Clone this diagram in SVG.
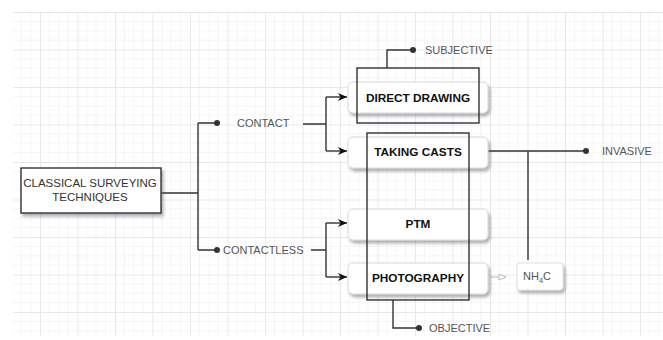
<svg xmlns="http://www.w3.org/2000/svg" width="663" height="340" viewBox="0 0 663 340">
  <style>
    .conn { fill: none; stroke: #333; stroke-width: 1.4; }
    .dot { fill: #333; }
    .lbl { font-family: "Liberation Sans", Arial, sans-serif; font-size: 11px; fill: #555; }
    .node { fill: #fff; stroke: #d8d8d8; stroke-width: 1; filter: url(#shadow); }
    .ntxt { font-family: "Liberation Sans", Arial, sans-serif; font-size: 11.8px; font-weight: bold; fill: #111; text-anchor: middle; }
    .frame { fill: none; stroke: #222; stroke-width: 1.3; }
  </style>
  <defs>
    <pattern id="grid" patternUnits="userSpaceOnUse" x="2.5" y="12" width="37.5" height="37.5">
      <path d="M9.375 0V37.5M18.75 0V37.5M28.125 0V37.5M0 9.375H37.5M0 18.75H37.5M0 28.125H37.5" stroke="#f5f5f5" stroke-width="1" fill="none"/>
      <path d="M0.5 0V37.5M0 0.5H37.5" stroke="#e8e8e8" stroke-width="1" fill="none"/>
    </pattern>
    <filter id="shadow" x="-10%" y="-20%" width="130%" height="160%">
      <feDropShadow dx="2" dy="3" stdDeviation="1.5" flood-color="#556" flood-opacity="0.45"/>
    </filter>
    <marker id="arr" markerUnits="userSpaceOnUse" markerWidth="9" markerHeight="8" refX="9" refY="4" orient="auto">
      <path d="M0,0 L9,4 L0,8 L2.5,4 z" fill="#111"/>
    </marker>
    <marker id="arrGray" markerUnits="userSpaceOnUse" markerWidth="9" markerHeight="8" refX="8" refY="4" orient="auto">
      <path d="M1,1 L8,4 L1,7 z" fill="#fff" stroke="#bbb" stroke-width="1"/>
    </marker>
  </defs>

  <rect x="0" y="0" width="663" height="340" fill="#fff"/>
  <rect x="13" y="12" width="650" height="324" fill="url(#grid)"/>

  <g id="connectors">
    <path class="conn" d="M161 193H198M198 123V250M198 123H217M198 250H217"/>
    <circle class="dot" cx="217" cy="123" r="3"/>
    <circle class="dot" cx="217" cy="250" r="3"/>
    <path class="conn" d="M303 124H326M326 97V151"/>
    <path class="conn" d="M326 97H347" marker-end="url(#arr)"/>
    <path class="conn" d="M326 151H347" marker-end="url(#arr)"/>
    <path class="conn" d="M311 250H326M326 223V277"/>
    <path class="conn" d="M326 223H347" marker-end="url(#arr)"/>
    <path class="conn" d="M326 277H347" marker-end="url(#arr)"/>
    <path class="conn" d="M387 68V50H413"/>
    <circle class="dot" cx="413" cy="50" r="3"/>
    <path class="conn" d="M393 300V328H419"/>
    <circle class="dot" cx="419" cy="328" r="3"/>
    <path class="conn" d="M488 151H586M528 151V260"/>
    <circle class="dot" cx="586" cy="151" r="3"/>
    <path d="M490 277H506" fill="none" stroke="#bbb" stroke-width="1" marker-end="url(#arrGray)"/>
  </g>

  <g id="classical">
    <rect x="21" y="168" width="140" height="45" fill="#fff" stroke="#222" stroke-width="1.3" filter="url(#shadow)"/>
    <text x="90" y="187" font-family="Liberation Sans, Arial, sans-serif" font-size="11.5" fill="#333" text-anchor="middle">CLASSICAL SURVEYING</text>
    <text x="90" y="201" font-family="Liberation Sans, Arial, sans-serif" font-size="11.5" fill="#333" text-anchor="middle">TECHNIQUES</text>
  </g>

  <g id="contact"><text class="lbl" x="237" y="127">CONTACT</text></g>
  <g id="contactless"><text class="lbl" x="223" y="254">CONTACTLESS</text></g>
  <g id="subjective"><text class="lbl" x="425" y="54">SUBJECTIVE</text></g>
  <g id="objective"><text class="lbl" x="429" y="332">OBJECTIVE</text></g>
  <g id="invasive"><text class="lbl" x="602" y="155">INVASIVE</text></g>

  <g id="direct-drawing">
    <rect class="node" x="348" y="82" width="140" height="31" rx="5"/>
    <text class="ntxt" x="418" y="101.5">DIRECT DRAWING</text>
  </g>
  <g id="taking-casts">
    <rect class="node" x="348" y="137" width="140" height="31" rx="5"/>
    <text class="ntxt" x="418" y="156">TAKING CASTS</text>
  </g>
  <g id="ptm">
    <rect class="node" x="348" y="209" width="140" height="31" rx="5"/>
    <text class="ntxt" x="418" y="227.5">PTM</text>
  </g>
  <g id="photography">
    <rect class="node" x="348" y="263" width="140" height="31" rx="5"/>
    <text class="ntxt" x="418" y="282">PHOTOGRAPHY</text>
  </g>
  <g id="nh4c">
    <rect x="517" y="263" width="46" height="27" rx="3" fill="#fff" stroke="#e0e0e0" stroke-width="1" filter="url(#shadow)"/>
    <text x="523" y="280" font-family="Liberation Sans, Arial, sans-serif" font-size="11" fill="#555">NH<tspan font-size="7.5" dy="3">4</tspan><tspan dy="-3">C</tspan></text>
  </g>

  <g id="frames">
    <rect class="frame" x="357" y="68" width="122" height="55"/>
    <rect class="frame" x="367" y="133" width="102" height="167"/>
  </g>
</svg>
